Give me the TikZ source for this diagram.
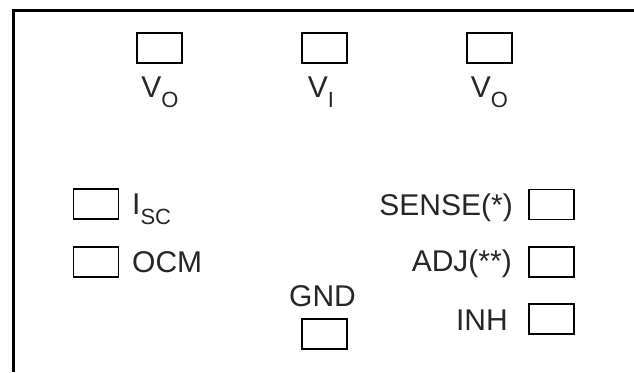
\documentclass[tikz,border=0pt]{standalone}
\usepackage{fontspec}
\setmainfont{Liberation Sans}
\newcommand{\pinsub}[1]{\raisebox{-10.5pt}{\fontsize{22}{22}\selectfont #1}}
\begin{document}
\begin{tikzpicture}[x=1pt,y=-1pt,
  pad/.style={draw=black,line width=1.4pt,minimum width=45pt,minimum height=30pt,inner sep=0pt},
  lbl/.style={inner sep=0pt,text=black!85,font=\fontsize{30}{32}\selectfont}]
\useasboundingbox (0,0) rectangle (634,372);
% frame
\draw[line width=3pt] (13,372) -- (13,10.5) -- (634,10.5);
% top pads
\node[pad] (vo1) at (159.5,48) {};
\node[pad] (vi)  at (324.5,48) {};
\node[pad] (vo2) at (489.5,48) {};
\node[lbl,anchor=base] (lvo1) at (160,97) {V\pinsub{O}};
\node[lbl,anchor=base] (lvi)  at (321,97) {V\pinsub{I}};
\node[lbl,anchor=base] (lvo2) at (489.5,97) {V\pinsub{O}};
% left pads
\node[pad] (isc) at (96,204) {};
\node[pad] (ocm) at (96,262) {};
\node[lbl,anchor=base west] (lisc) at (132,214) {I\pinsub{SC}};
\node[lbl,anchor=base west] (locm) at (132,272) {OCM};
% right pads
\node[pad] (sense) at (551.5,204.5) {};
\node[pad] (adj)   at (551.5,262) {};
\node[pad] (inh)   at (551.5,319) {};
\node[lbl,anchor=base east] (lsense) at (513,215) {SENSE(*)};
\node[lbl,anchor=base east] (ladj)   at (512,271) {ADJ(**)};
\node[lbl,anchor=base east] (linh)   at (508,330) {INH};
% gnd
\node[pad] (gnd) at (324.5,334) {};
\node[lbl,anchor=base] (lgnd) at (322.5,306) {GND};
\end{tikzpicture}
\end{document}
